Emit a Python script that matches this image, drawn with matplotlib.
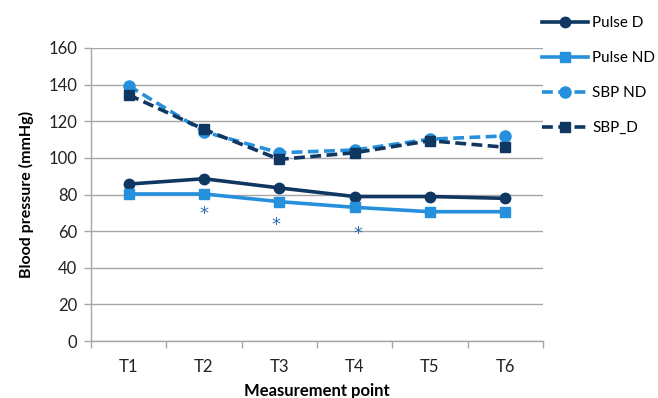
import matplotlib
matplotlib.use("Agg")
import matplotlib.pyplot as plt
from matplotlib.ticker import FixedLocator, NullFormatter

plt.rcParams['font.family'] = ['Lato', 'DejaVu Sans']

points = ["T1", "T2", "T3", "T4", "T5", "T6"]
pulse_d = [85.7, 88.6, 83.6, 78.9, 78.9, 77.9]
pulse_nd = [80.3, 80.3, 76.1, 73.0, 70.6, 70.6]
sbp_nd = [139.4, 114.3, 102.8, 104.3, 110.2, 112.0]
sbp_d = [134.4, 115.6, 99.2, 102.8, 109.4, 105.8]

# significance marks: (x position, y value)
star_x = [1.0, 1.95, 3.04]
star_y = [69.4, 63.4, 58.4]

dark = "#0F3762"
light = "#2690DC"
star_color = "#2E6AB0"
grid_color = "#A6A6A6"

fig = plt.figure(figsize=(6.58, 3.98), dpi=100)
ax = fig.add_axes([0.1383, 0.1432, 0.825 - 0.1383, 0.8794 - 0.1432])

x = list(range(len(points)))
lw = 2.6
ax.plot(x, pulse_d, color=dark, lw=lw, marker='o', ms=7.5, label="Pulse D", zorder=3)
ax.plot(x, pulse_nd, color=light, lw=lw, marker='s', ms=7, label="Pulse ND", zorder=3)
ax.plot(x, sbp_nd, color=light, lw=lw, marker='o', ms=8, dashes=(3.0, 1.5),
        label="SBP ND", zorder=3)
ax.plot(x, sbp_d, color=dark, lw=lw, marker='s', ms=7, dashes=(3.0, 1.5),
        label="SBP_D", zorder=4)

for sx, sy in zip(star_x, star_y):
    ax.text(sx, sy, "*", color=star_color, fontsize=13, ha='center', va='center',
            family='DejaVu Sans')

ax.set_xlim(-0.5, len(points) - 0.5)
ax.set_ylim(0, 160)
ax.set_yticks(range(0, 161, 20))
ax.set_xticks(x)
ax.set_xticklabels(points)
ax.xaxis.set_minor_locator(FixedLocator([i - 0.5 for i in range(len(points) + 1)]))
ax.xaxis.set_minor_formatter(NullFormatter())
ax.tick_params(axis='x', which='major', length=0, labelsize=12, pad=13, colors='#222222')
ax.tick_params(axis='x', which='minor', length=5, width=1, color=grid_color)
ax.tick_params(axis='y', length=5, width=1, color=grid_color, labelsize=12,
               labelcolor='#222222', pad=5)

ax.grid(axis='y', color=grid_color, lw=1)
ax.set_axisbelow(True)
for s in ['top', 'right']:
    ax.spines[s].set_visible(False)
for s in ['left', 'bottom']:
    ax.spines[s].set_color(grid_color)
    ax.spines[s].set_linewidth(1)

ax.set_xlabel("Measurement point", fontsize=12, fontweight='bold', labelpad=6)
ax.set_ylabel("Blood pressure (mmHg)", fontsize=11.5, fontweight='bold', labelpad=10)

fig.legend(loc='upper left', bbox_to_anchor=(0.815, 0.975), frameon=False,
           fontsize=11, handlelength=3.0, labelspacing=1.38, handletextpad=0.25,
           borderaxespad=0)

fig.savefig("out.png", dpi=100)
